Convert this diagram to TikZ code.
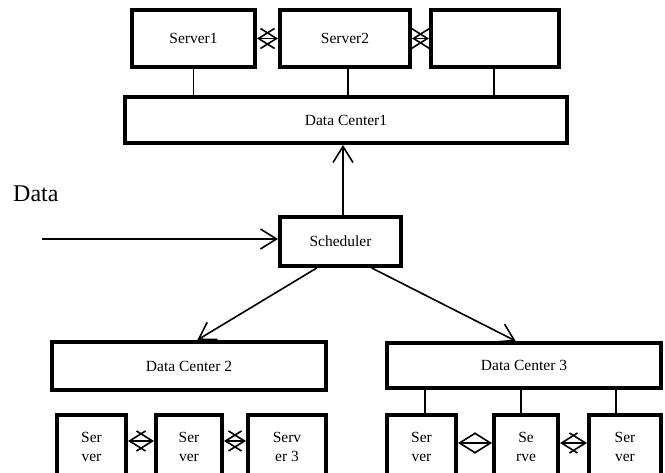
\documentclass[tikz,border=0pt]{standalone}
\usepackage{fontspec}
\setmainfont{Liberation Serif}
\usetikzlibrary{arrows.meta,calc}

\tikzset{
  unit/.style={draw, line width=4pt, inner sep=0pt, outer sep=auto,
    font=\fontsize{15.5}{19}\selectfont, align=center},
  link/.style={line width=1.6pt},
  flow/.style={line width=1.6pt, -{Straight Barb[length=16pt,width=20pt]}},
  peer/.style={line width=1.6pt, {Straight Barb[length=16pt,width=20pt]}-{Straight Barb[length=16pt,width=20pt]}}
}

\begin{document}
\begin{tikzpicture}[x=1pt,y=-1pt]
\clip (0,0) rectangle (665,473);
\fill[white] (0,0) rectangle (665,473);

% first data centre and its servers
\node[unit, minimum width=123pt, minimum height=57pt] (s1) at (193.5,38.5) {Server1};
\node[unit, minimum width=130pt, minimum height=57pt] (s2) at (345,38.5) {Server2};
\node[unit, minimum width=128pt, minimum height=57pt] (s3) at (495,38.5) {};
\node[unit, minimum width=442pt, minimum height=46pt] (dc1) at (346,120) {Data Center1};

% scheduler and incoming data
\node[unit, minimum width=121pt, minimum height=49pt] (sched) at (340.5,241.5) {Scheduler};
\node[anchor=base west, inner sep=0pt, font=\fontsize{24}{28}\selectfont] (data) at (13,202) {Data};
\coordinate (din) at (42,239);

% second and third data centres
\node[unit, minimum width=274pt, minimum height=48pt] (dc2) at (189,366) {Data Center 2};
\node[unit, minimum width=274pt, minimum height=45pt] (dc3) at (524,365.5) {Data Center 3};

% lower server rows
\node[unit, minimum width=69pt, minimum height=64pt] (b1) at (91.5,447) {Ser\\ver};
\node[unit, minimum width=66pt, minimum height=64pt] (b2) at (189,447) {Ser\\ver};
\node[unit, minimum width=78pt, minimum height=64pt] (b3) at (287,447) {Serv\\er 3};
\node[unit, minimum width=69pt, minimum height=64pt] (c1) at (421.5,447) {Ser\\ver};
\node[unit, minimum width=64pt, minimum height=64pt] (c2) at (526,447) {Se\\rve};
\node[unit, minimum width=72pt, minimum height=64pt] (c3) at (625,447) {Ser\\ver};

% server uplinks
\draw[link] (s1.south) -- (s1.south |- dc1.north);
\draw[link] ([xshift=3pt]s2.south) -- ([xshift=3pt]s2.south |- dc1.north);
\draw[link] ([xshift=-1pt]s3.south) -- ([xshift=-1pt]s3.south |- dc1.north);
\draw[link] ([xshift=3.5pt]c1.north) -- ([xshift=3.5pt]c1.north |- dc3.south);
\draw[link] ([xshift=-5pt]c2.north) -- ([xshift=-5pt]c2.north |- dc3.south);
\draw[link] ([xshift=-9pt]c3.north) -- ([xshift=-9pt]c3.north |- dc3.south);

% peer links between servers
\draw[peer] (s1.east) -- (s1.east -| s2.west);
\draw[peer] (s2.east) -- (s2.east -| s3.west);
\draw[peer] ([yshift=6pt]b1.east) -- ([yshift=6pt]b1.east -| b2.west);
\draw[peer] ([yshift=6pt]b2.east) -- ([yshift=6pt]b2.east -| b3.west);
\draw[peer] ([yshift=4pt]c1.east) -- ([yshift=4pt]c1.east -| c2.west);
\draw[peer] ([yshift=4pt]c2.east) -- ([yshift=4pt]c2.east -| c3.west);

% data flow
\draw[flow] (din) -- (din -| sched.west);
\draw[flow] ([xshift=2.5pt]sched.north) -- ([xshift=2.5pt]sched.north |- dc1.south);
\draw[flow] ($(sched.south west)!0.31!(sched.south east)$) -- ($(dc2.north west)!0.53!(dc2.north east)$);
\draw[flow] ($(sched.south west)!0.75!(sched.south east)$) -- ($(dc3.north west)!0.47!(dc3.north east)$);
\end{tikzpicture}
\end{document}
